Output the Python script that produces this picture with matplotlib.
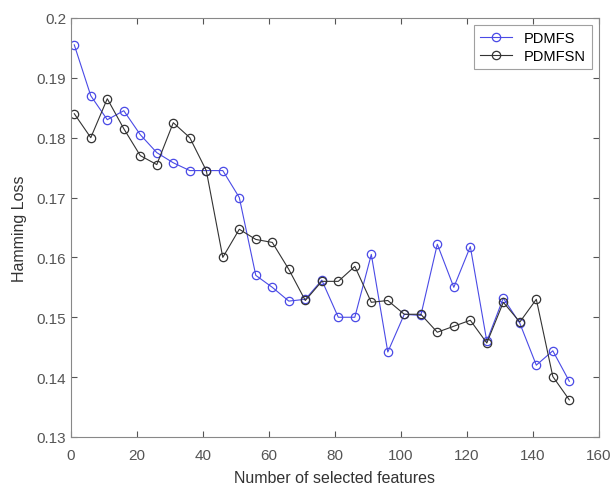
import numpy as np
import matplotlib
matplotlib.use('Agg')
import matplotlib.pyplot as plt

plt.rcParams['font.family'] = ['Liberation Sans', 'DejaVu Sans']

n_feat = np.arange(1, 152, 5)

pdmfs = [0.1955, 0.187, 0.183, 0.1845, 0.1805, 0.1775, 0.1758, 0.1745, 0.1745, 0.1745,
         0.170, 0.157, 0.155, 0.1527, 0.153, 0.1562, 0.150, 0.150, 0.1605, 0.1442,
         0.1505, 0.1503, 0.1622, 0.155, 0.1618, 0.146, 0.1532, 0.149, 0.142, 0.1444, 0.1393]

pdmfsn = [0.184, 0.180, 0.1865, 0.1815, 0.177, 0.1755, 0.1825, 0.180, 0.1745, 0.160,
          0.1647, 0.163, 0.1625, 0.158, 0.1528, 0.156, 0.156, 0.1585, 0.1525, 0.1528,
          0.1505, 0.1505, 0.1475, 0.1485, 0.1495, 0.1457, 0.1525, 0.1492, 0.153, 0.1401, 0.1362]

fig = plt.figure(figsize=(6.14, 4.89), dpi=100)
ax = fig.add_axes([0.1156, 0.1043, 0.86, 0.857])

ax.plot(n_feat, pdmfs, '-o', color='#4a4ae6', lw=0.8, ms=6, mfc='none', mew=0.9, label='PDMFS')
ax.plot(n_feat, pdmfsn, '-o', color='#333333', lw=0.8, ms=6, mfc='none', mew=0.9, label='PDMFSN')

ax.set_xlim(0, 160)
ax.set_ylim(0.13, 0.2)
ax.set_xticks(np.arange(0, 161, 20))
ax.set_yticks(np.arange(0.13, 0.2001, 0.01))
ax.set_yticklabels(['0.13', '0.14', '0.15', '0.16', '0.17', '0.18', '0.19', '0.2'])
ax.tick_params(direction='in', top=True, right=True, labelsize=11, colors='#555555', length=4)
ax.tick_params(axis='x', pad=8)
for s in ax.spines.values():
    s.set_color('#888888')
    s.set_linewidth(0.8)

ax.set_xlabel('Number of selected features', fontsize=11.5, color='#333333', labelpad=6)
ax.set_ylabel('Hamming Loss', fontsize=11.5, color='#333333', labelpad=7)

leg = ax.legend(loc='upper right', fontsize=10.5, fancybox=False, edgecolor='#888888',
                handlelength=2.2, borderpad=0.4, labelspacing=0.3)
leg.get_frame().set_linewidth(0.8)

fig.savefig('out.png', dpi=100)
